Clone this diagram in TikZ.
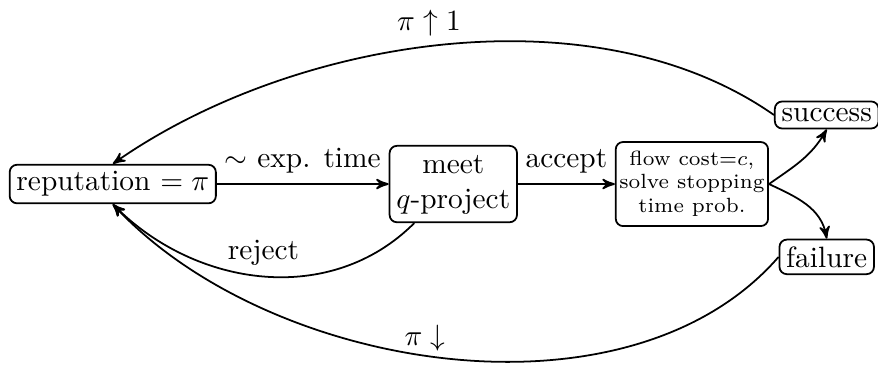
\documentclass[tikz,border=0pt]{standalone}
\usepackage{amsmath}
\usepackage{amssymb}
\usetikzlibrary{matrix,arrows}

\begin{document}
\begin{tikzpicture}[>=stealth',semithick]
          \useasboundingbox (-151.1pt,-61.2pt) rectangle (147.6pt,63.9pt);
          \matrix (m) [matrix of nodes,nodes={draw,rounded corners=2.5pt,anchor=center,inner sep=2.3pt},row sep=4pt,ampersand replacement=\&]
            {
                                  \&[58.5pt]                                          \&[33pt]                                                                           \&[1.7pt] success \\
              reputation $=\pi$   \&[58.5pt] |[inner ysep=1pt]| \begin{tabular}{@{}c@{}}meet\\$q$-project\end{tabular} \&[33pt] |[font=\scriptsize,inner xsep=1.2pt]| \begin{tabular}{@{}c@{}}flow cost=$c$,\\solve stopping\\time prob.\end{tabular} \&[1.7pt] \\
                                  \&[58.5pt]                                          \&[33pt]                                                                           \&[1.7pt] failure \\
              };
              \draw[->] (m-2-1) -- node[above] {$\sim$ exp. time} (m-2-2);
              \draw[->] (m-2-2) -- node[above] {accept} (m-2-3);
              \draw[->] (m-2-3.east) to[out=35,in=-120] (m-1-4.south);
              \draw[->] (m-2-3.east) to[out=-25,in=100] (m-3-4.north);
              \draw[->] (m-1-4.west) to[out=145,in=35,looseness=0.85] node[pos=0.52,above] {$\pi\uparrow 1$} (m-2-1.north);
              \draw[->] (m-3-4.west) to[out=229,in=-47,looseness=0.88] node[pos=0.53,above,inner sep=1pt] {$\pi\downarrow$} (m-2-1.south);
              \draw[->] (m-2-2) to[out=225,in=-45] node[above] {reject} (m-2-1.south);
        \end{tikzpicture}
\end{document}
